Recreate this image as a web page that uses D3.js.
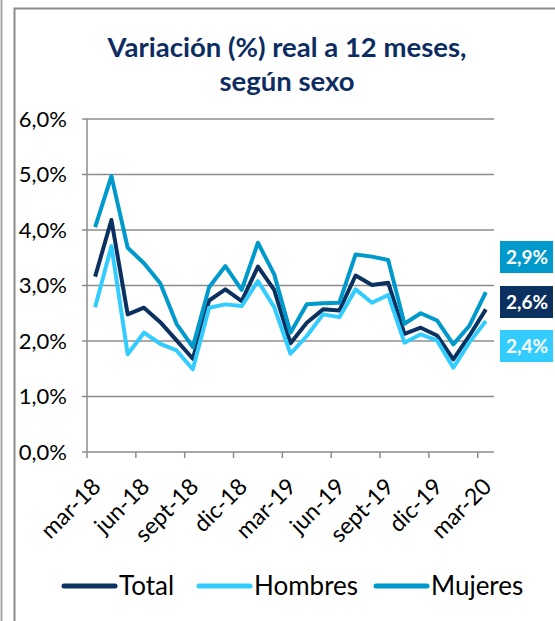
<!DOCTYPE html>
<html lang="es">
<head>
    <meta charset="UTF-8">
    <title>Variación real a 12 meses, según sexo</title>
    <script src="https://d3js.org/d3.v7.min.js"></script>
    <style>
        body { margin: 0; background: #fff; }
        text { font-family: Lato, 'Open Sans', sans-serif; }
    </style>
</head>
<body>

<script>
    const width  = 555;
    const height = 621;

    const months = ["mar-18","abr-18","may-18","jun-18","jul-18","ago-18","sept-18","oct-18","nov-18",
                    "dic-18","ene-19","feb-19","mar-19","abr-19","may-19","jun-19","jul-19","ago-19",
                    "sept-19","oct-19","nov-19","dic-19","ene-20","feb-20","mar-20"];

    const total   = [3.16,4.18,2.48,2.60,2.34,2.01,1.68,2.73,2.93,2.72,3.34,2.92,1.96,2.33,2.57,2.55,3.18,3.01,3.05,2.13,2.24,2.10,1.67,2.10,2.57];
    const hombres = [2.61,3.71,1.76,2.15,1.95,1.83,1.49,2.60,2.66,2.63,3.08,2.61,1.77,2.09,2.48,2.43,2.93,2.69,2.83,1.97,2.12,2.01,1.52,1.98,2.36];
    const mujeres = [4.05,4.97,3.68,3.40,3.04,2.31,1.89,2.97,3.35,2.92,3.77,3.20,2.15,2.66,2.68,2.69,3.56,3.52,3.46,2.31,2.50,2.37,1.94,2.28,2.88];

    const yTicks = [0,1,2,3,4,5,6];
    const lastLabels = ["2,9%","2,6%","2,4%"];

    const series = [
        {name: "Total",   values: total,   color: "#0b3160"},
        {name: "Hombres", values: hombres, color: "#33ccff"},
        {name: "Mujeres", values: mujeres, color: "#0099cc"}
    ];

    const plot = {left: 87, right: 494, top: 119, bottom: 452};

    const x = d3.scaleBand()
                .domain(months)
                .range([plot.left, plot.right])
                .padding(0);

    const y = d3.scaleLinear()
                .domain([0,6])
                .range([plot.bottom, plot.top]);

    const fmt = d => d3.format(".1f")(d).replace(".", ",") + "%";

    const svg = d3.select("body")
                  .append("svg").attr("width", width).attr("height", height);

    // outer frame
    svg.append("line").attr("x1",1.5).attr("x2",1.5).attr("y1",0).attr("y2",height)
       .attr("stroke","#a6a6a6").attr("stroke-width",2);
    svg.append("path").attr("d","M14.5," + height + "V8.5H" + width)
       .attr("fill","none").attr("stroke","#8c8c8c").attr("stroke-width",2);

    // title
    const title = svg.append("text")
                     .attr("text-anchor","middle")
                     .attr("fill","#0d2d62")
                     .attr("font-weight","bold")
                     .attr("font-size","27.5px");
    title.append("tspan").attr("x",287).attr("y",57).text("Variación (%) real a 12 meses,");
    title.append("tspan").attr("x",287).attr("y",91).text("según sexo");

    // gridlines + y labels
    svg.append("g").selectAll("line")
       .data(yTicks).join("line")
       .attr("x1", plot.left - 5).attr("x2", plot.right)
       .attr("y1", d => y(d)).attr("y2", d => y(d))
       .attr("stroke","#8c8c8c").attr("stroke-width",1.5);

    svg.append("g").selectAll("text")
       .data(yTicks).join("text")
       .attr("x", 67).attr("y", d => y(d)).attr("dy","0.35em")
       .attr("text-anchor","end")
       .attr("font-size","22px").attr("fill","#000")
       .text(fmt);

    // y axis line
    svg.append("line")
       .attr("x1", plot.left).attr("x2", plot.left)
       .attr("y1", plot.top).attr("y2", plot.bottom)
       .attr("stroke","#8c8c8c").attr("stroke-width",1.5);

    // x ticks at every third month (between categories)
    const tickMonths = months.filter((d,i) => i % 3 === 0);

    svg.append("g").selectAll("line")
       .data(tickMonths).join("line")
       .attr("x1", d => x(d)).attr("x2", d => x(d))
       .attr("y1", plot.bottom).attr("y2", plot.bottom + 6)
       .attr("stroke","#8c8c8c").attr("stroke-width",1.5);

    svg.append("g").selectAll("text")
       .data(tickMonths).join("text")
       .attr("transform", d => "translate(" + (x(d) + x.bandwidth()/2 + 7) + "," + (plot.bottom + 36) + ") rotate(-45)")
       .attr("text-anchor","end")
       .attr("font-size","23px").attr("fill","#000")
       .text(d => d);

    // lines
    const line = d3.line()
                   .x((d,i) => x(months[i]) + x.bandwidth()/2)
                   .y(d => y(d));

    svg.append("g").selectAll("path")
       .data(series).join("path")
       .attr("d", d => line(d.values))
       .attr("fill","none")
       .attr("stroke", d => d.color)
       .attr("stroke-width",4)
       .attr("stroke-linejoin","round");

    // last value boxes (Mujeres, Total, Hombres)
    const boxOrder = [series[2], series[0], series[1]];
    const boxY = [241, 286, 330];

    const boxes = svg.append("g").selectAll("g")
                     .data(boxOrder).join("g")
                     .attr("transform", (d,i) => "translate(500," + boxY[i] + ")");

    boxes.append("rect")
         .attr("width", 53).attr("height", 32)
         .attr("fill", d => d.color);

    boxes.append("text")
         .attr("x", 27).attr("y", 16).attr("dy","0.36em")
         .attr("text-anchor","middle")
         .attr("fill","#fff").attr("font-weight","bold").attr("font-size","19px")
         .text((d,i) => lastLabels[i]);

    // legend
    const legendX = [62, 197, 374];
    const legend = svg.append("g").selectAll("g")
                      .data(series).join("g")
                      .attr("transform", (d,i) => "translate(" + legendX[i] + ",586)");

    legend.append("line")
          .attr("x1", 2).attr("x2", 53)
          .attr("stroke", d => d.color)
          .attr("stroke-width",5)
          .attr("stroke-linecap","round");

    legend.append("text")
          .attr("x", 57).attr("dy","0.36em")
          .attr("font-size","26px").attr("fill","#000")
          .text(d => d.name);
</script>

</body>
</html>
